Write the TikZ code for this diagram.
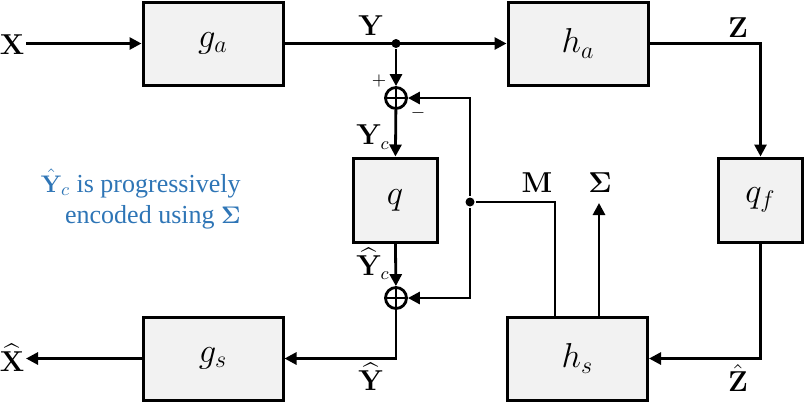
\documentclass[tikz,border=0pt]{standalone}
\usepackage{amsmath,amssymb}
\usepackage[no-math]{fontspec}
\setmainfont{Liberation Serif}
\usepackage{tikz}
\usetikzlibrary{arrows.meta}
\definecolor{notecol}{RGB}{46,117,182}
\tikzstyle{block}=[draw, line width=1.5pt, fill=black!5, minimum width=70pt, minimum height=41.5pt, inner sep=0pt, font=\fontsize{17}{19}\selectfont]
\tikzstyle{smallblock}=[block, minimum width=42pt, minimum height=42pt]
\tikzstyle{lbl}=[inner sep=0pt, font=\fontsize{13.5}{16}\selectfont]
\tikzset{sumnode/.style={circle, draw, line width=1.4pt, minimum size=10.5pt, inner sep=0pt,
      path picture={\draw[line width=1.4pt] (path picture bounding box.north) -- (path picture bounding box.south)
        (path picture bounding box.west) -- (path picture bounding box.east);}},
  dot/.style={circle, fill=black, minimum size=4.5pt, inner sep=0pt},
  arr/.style={-{Triangle[length=6pt,width=6pt]}}}

\begin{document}
\begin{tikzpicture}[x=0.5pt, y=-0.5pt, line width=1.4pt]
    \useasboundingbox (0,0) rectangle (806,403);
    % blocks
    \node[block] (ga) at (213,43.5) {$g_a$};
    \node[block] (ha) at (578,43.5) {$h_a$};
    \node[smallblock] (q) at (395,200) {$q$};
    \node[smallblock] (qf) at (760.5,200) {$q_f$};
    \node[block] (hs) at (577.5,358.5) {$h_s$};
    \node[block] (gs) at (213,358.5) {$g_s$};
    \node[sumnode] (sum1) at (396,98) {};
    \node[sumnode] (sum2) at (396,298) {};
    \node[dot] (jy) at (396,43.5) {};
    \node[dot] (jm) at (470,202) {};
    \coordinate (xin) at (26,43.5);
    \coordinate (xout) at (26,358.5);
    \coordinate (mx) at (555,0);
    \coordinate (sx) at (599,0);
    \coordinate (sig) at (599,203);
    % top path
    \draw[arr] (xin) -- (ga);
    \draw[arr] (ga) -- (ha);
    \draw[arr] (ha.east) -| (qf.north);
    \draw[arr] (qf.south) |- (hs.east);
    % centre
    \draw[arr] (jy) -- (sum1);
    \draw[arr] (sum1) -- (q);
    \draw[arr] (q) -- (sum2);
    \draw[arr] (sum2) |- (gs);
    \draw[arr] (gs) -- (xout);
    \draw[arr] (jm) |- (sum1);
    \draw[arr] (jm) |- (sum2);
    \draw (jm) -| (hs.north -| mx);
    \draw[arr] (hs.north -| sx) -- (sig);
    % labels
    \node[lbl] (lx) at (12,45) {$\mathbf{X}$};
    \node[lbl] (ly) at (371,26) {$\mathbf{Y}$};
    \node[lbl] (lz) at (738,28) {$\mathbf{Z}$};
    \node[lbl] (lyc) at (373,137) {$\mathbf{Y}_c$};
    \node[lbl] (lyhc) at (373,264) {$\widehat{\mathbf{Y}}_c$};
    \node[lbl] (lyh) at (371,377) {$\widehat{\mathbf{Y}}$};
    \node[lbl] (lzh) at (738,378) {$\hat{\mathbf{Z}}$};
    \node[lbl] (lxh) at (12,358) {$\widehat{\mathbf{X}}$};
    \node[lbl] (lm) at (537,183) {$\mathbf{M}$};
    \node[lbl] (ls) at (600,183) {$\mathbf{\Sigma}$};
    \node[lbl, font=\small] (lp) at (379,81) {$+$};
    \node[lbl, font=\small] (ln) at (418,113) {$-$};
    \node[lbl, anchor=east, align=right, text=notecol, font=\fontsize{13}{15.5}\selectfont] (note) at (242,199)
      {$\hat{\mathbf{Y}}_c$ is progressively\\encoded using $\mathbf{\Sigma}$};
  \end{tikzpicture}
\end{document}
